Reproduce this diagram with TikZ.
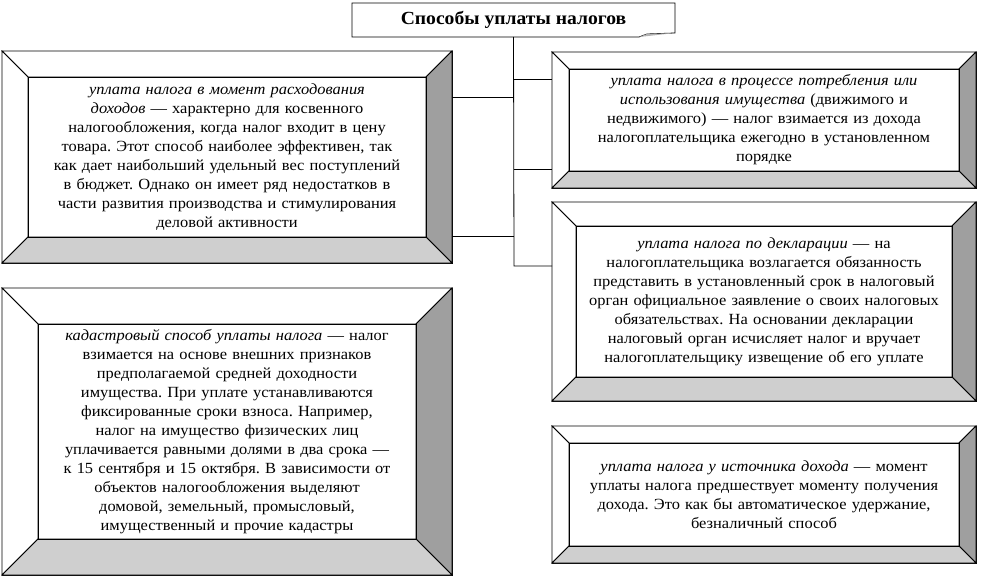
\documentclass[tikz,border=0pt]{standalone}
\usepackage{fontspec}
\setmainfont[FakeStretch=1.06]{Liberation Serif}
\frenchspacing
\tikzset{
  outerbox/.style={draw,fill=white,inner sep=0pt,outer sep=0pt},
  innerbox/.style={draw,fill=white,inner sep=0pt,outer sep=0pt,align=center,
    font=\fontsize{15.5}{19}\selectfont},
  sidelight/.style={draw,fill=white},
  sidedark/.style={draw,fill=gray!75},
  sidegray/.style={draw,fill=gray!38},
  link/.style={draw,line width=0.8pt}
}
% bevelled panel: name, x1, y1, x2, y2, bevel, text
\newcommand\panel[7]{%
  \node[outerbox,minimum width={(#4-#2)*1pt},minimum height={(#5-#3)*1pt}]
    (#1) at ({(#2+#4)/2},{(#3+#5)/2}) {};
  \node[innerbox,minimum width={(#4-#2-2*#6)*1pt},minimum height={(#5-#3-2*#6)*1pt},
    text width={(#4-#2-2*#6-6)*1pt}] (#1in) at (#1.center) {#7};
  \filldraw[sidelight] (#1.north west) -- (#1.north east) -- (#1in.north east)
    -- (#1in.north west) -- cycle;
  \filldraw[sidelight] (#1.north west) -- (#1in.north west) -- (#1in.south west)
    -- (#1.south west) -- cycle;
  \filldraw[sidedark] (#1.north east) -- (#1.south east) -- (#1in.south east)
    -- (#1in.north east) -- cycle;
  \filldraw[sidegray] (#1.south west) -- (#1in.south west) -- (#1in.south east)
    -- (#1.south east) -- cycle;
  \draw (#1in.north west) rectangle (#1in.south east);}

\begin{document}
\begin{tikzpicture}[x=1pt,y=-1pt,line width=0.8pt]
 \useasboundingbox (0,0) rectangle (990,578);
 % title
 \node[inner sep=0pt,outer sep=0pt,minimum width=323pt,minimum height=34pt,
   font=\fontsize{18.5}{20}\selectfont\bfseries] (title) at (513.5,20) {Способы уплаты налогов};
 \draw (title.south west) -- (title.north west) -- (title.north east)
   -- ([yshift=4pt]title.south east) -- ([xshift=-28pt,yshift=3pt]title.south east)
   -- ([xshift=-36pt]title.south east) -- cycle;
 \fill[gray!60] ([yshift=4pt]title.south east) -- ([xshift=-28pt,yshift=3pt]title.south east)
   -- ([xshift=-36pt]title.south east) -- cycle;

 % left column
 \panel{lb1}{2}{51}{452}{263}{26}{%
  \textit{уплата налога в момент расходования}\\
  \textit{доходов} — характерно для косвенного\\
  налогообложения, когда налог входит в цену\\
  товара. Этот способ наиболее эффективен, так\\
  как дает наибольший удельный вес поступлений\\
  в бюджет. Однако он имеет ряд недостатков в\\
  части развития производства и стимулирования\\
  деловой активности}
 \panel{lb2}{2}{288}{452}{575}{36}{%
  \textit{кадастровый способ уплаты налога} — налог\\
  взимается на основе внешних признаков\\
  предполагаемой средней доходности\\
  имущества. При уплате устанавливаются\\
  фиксированные сроки взноса. Например,\\
  налог на имущество физических лиц\\
  уплачивается равными долями в два срока —\\
  к 15 сентября и 15 октября. В зависимости от\\
  объектов налогообложения выделяют\\
  домовой, земельный, промысловый,\\
  имущественный и прочие кадастры}

 % right column
 \panel{rb1}{552}{52}{976}{188}{17}{%
  \textit{уплата налога в процессе потребления или}\\
  \textit{использования имущества} (движимого и\\
  недвижимого) — налог взимается из дохода\\
  налогоплательщика ежегодно в установленном\\
  порядке}
 \panel{rb2}{552}{202}{976}{401}{24}{%
  \textit{уплата налога по декларации} — на\\
  налогоплательщика возлагается обязанность\\
  представить в установленный срок в налоговый\\
  орган официальное заявление о своих налоговых\\
  обязательствах. На основании декларации\\
  налоговый орган исчисляет налог и вручает\\
  налогоплательщику извещение об его уплате}
 \panel{rb3}{552}{426}{976}{563}{17}{%
  \textit{уплата налога у источника дохода} — момент\\
  уплаты налога предшествует моменту получения\\
  дохода. Это как бы автоматическое удержание,\\
  безналичный способ}

 % trunk and branches
 \path (514,97) coordinate (jl1) (514,236) coordinate (jl2)
   (514,79) coordinate (jr1) (514,169) coordinate (jr2) (514,266) coordinate (jr3);
 \draw[link] (title.south) -- (jr3) -- (jr3 -| rb2.west);
 \foreach \J in {jl1,jl2}
  {\draw[link] (\J) -- (\J -| lb1.east);}
 \foreach \J in {jr1,jr2}
  {\draw[link] (\J) -- (\J -| rb1.west);}
\end{tikzpicture}
\end{document}
